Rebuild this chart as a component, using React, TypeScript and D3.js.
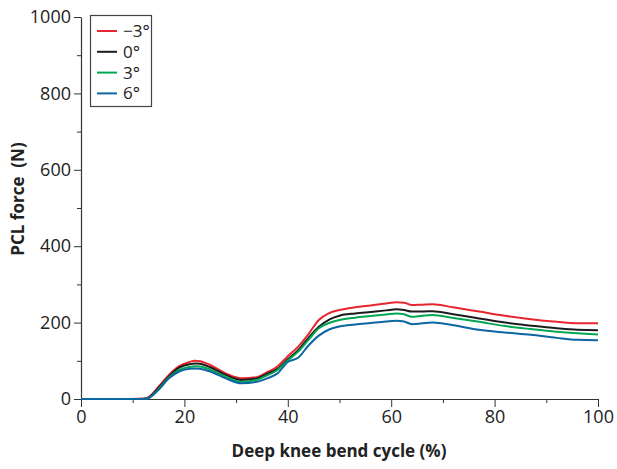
import React, { useEffect, useRef } from 'react';
import * as d3 from 'd3';

// cycle position (%) and PCL force (N) per tibial slope
const cycle = [0, 10, 12, 13, 15, 17, 19, 21, 22, 23, 25, 28, 31, 34, 36, 38, 40, 42, 44, 46, 48, 50, 53, 56, 59, 61, 62.5, 64, 66, 68, 72, 77, 82, 87, 92, 96, 100];
const slopeMinus3 = [0, 0, 1, 4, 32, 63, 86, 97, 100, 99, 89, 67, 54, 57, 70, 85, 112, 137, 170, 207, 225, 233, 240, 245, 250, 253, 252, 246, 247, 248, 240, 229, 218, 209, 202, 198, 198];
const slope0 = [0, 0, 0, 3, 29, 59, 82, 91, 93, 92, 83, 63, 50, 54, 66, 79, 104, 128, 160, 189, 208, 218, 224, 228, 232, 235, 233, 229, 229, 230, 222, 211, 200, 192, 185, 181, 180];
const slope3 = [0, 0, 0, 2, 26, 56, 76, 84, 86, 85, 77, 58, 45, 50, 62, 76, 101, 124, 155, 185, 199, 207, 213, 217, 221, 224, 222, 215, 218, 220, 212, 202, 191, 183, 176, 172, 169];
const slope6 = [0, 0, 0, 2, 24, 54, 72, 79, 80, 79, 72, 54, 41, 45, 54, 67, 97, 108, 140, 166, 182, 190, 195, 199, 203, 205, 203, 196, 198, 200, 193, 181, 174, 168, 160, 155, 154];

const seriesNames = ['\u22123\u00b0', '0\u00b0', '3\u00b0', '6\u00b0'];
const seriesValues = [slopeMinus3, slope0, slope3, slope6];
const colors = ['#e8262f', '#1c1c1c', '#00a651', '#0b66a2'];

const xTicks = [0, 20, 40, 60, 80, 100];
const yTicks = [0, 200, 400, 600, 800, 1000];

const W = 617, H = 469;
const left = 81, right = 598, top = 17, bottom = 399;
const font = '"Open Sans", "Noto Sans", sans-serif';

function App() {
  const node = useRef<SVGSVGElement>(null);

  useEffect(() => {
    const svg = d3.select(node.current);
    svg.selectAll('*').remove();

    const x = d3.scaleLinear().domain([0, 100]).range([left, right]);
    const y = d3.scaleLinear().domain([0, 1000]).range([bottom, top]);

    // minor ticks first
    svg.append('g')
      .attr('transform', `translate(0,${bottom})`)
      .call(d3.axisBottom(x).tickValues(d3.range(10, 100, 20)).tickSize(4).tickFormat(() => ''))
      .call(g => g.select('.domain').remove());
    svg.append('g')
      .attr('transform', `translate(${left},0)`)
      .call(d3.axisLeft(y).tickValues(d3.range(100, 1000, 200)).tickSize(4).tickFormat(() => ''))
      .call(g => g.select('.domain').remove());

    const gx = svg.append('g')
      .attr('transform', `translate(0,${bottom})`)
      .call(d3.axisBottom(x).tickValues(xTicks).tickSize(8).tickSizeOuter(0).tickPadding(3).tickFormat(d3.format('d')));
    const gy = svg.append('g')
      .attr('transform', `translate(${left},0)`)
      .call(d3.axisLeft(y).tickValues(yTicks).tickSize(7).tickSizeOuter(0).tickPadding(3).tickFormat(d3.format('d')));

    svg.selectAll('.tick line').attr('stroke', '#333');
    svg.selectAll('.domain').attr('stroke', '#333').attr('stroke-width', 1.2);
    [gx, gy].forEach(g => g.selectAll('text')
      .attr('font-family', font).attr('font-size', 18).attr('fill', '#222'));

    const line = d3.line<number>()
      .x((d, i) => x(cycle[i]))
      .y(d => y(d))
      .curve(d3.curveMonotoneX);

    svg.append('g').selectAll('path')
      .data(seriesValues)
      .enter()
      .append('path')
      .attr('d', d => line(d))
      .attr('fill', 'none')
      .attr('stroke', (d, i) => colors[i])
      .attr('stroke-width', 2);

    // legend
    const lg = svg.append('g');
    lg.append('rect')
      .attr('x', 90.5).attr('y', 15.5).attr('width', 61).attr('height', 91)
      .attr('fill', 'white').attr('stroke', '#444').attr('stroke-width', 1.2);
    seriesNames.forEach((name, i) => {
      const yy = 31 + i * 20.8;
      lg.append('line')
        .attr('x1', 97).attr('x2', 117).attr('y1', yy).attr('y2', yy)
        .attr('stroke', colors[i]).attr('stroke-width', 2);
      lg.append('text')
        .attr('x', 123).attr('y', yy + 6)
        .attr('font-family', font).attr('font-size', 17).attr('fill', '#222')
        .text(name);
    });

    svg.append('text')
      .attr('x', 339).attr('y', 457)
      .attr('text-anchor', 'middle')
      .attr('font-family', font).attr('font-size', 17).attr('font-weight', 'bold').attr('fill', '#222')
      .text('Deep knee bend cycle (%)');
    svg.append('text')
      .attr('transform', `translate(24,199) rotate(-90)`)
      .attr('text-anchor', 'middle')
      .attr('font-family', font).attr('font-size', 17).attr('font-weight', 'bold').attr('fill', '#222')
      .attr('xml:space', 'preserve')
      .text('PCL force  (N)');
  }, []);

  return (
    <svg ref={node} width={W} height={H} style={{ position: 'absolute', left: 0, top: 0, background: 'white' }} />
  );
}

export default App;
